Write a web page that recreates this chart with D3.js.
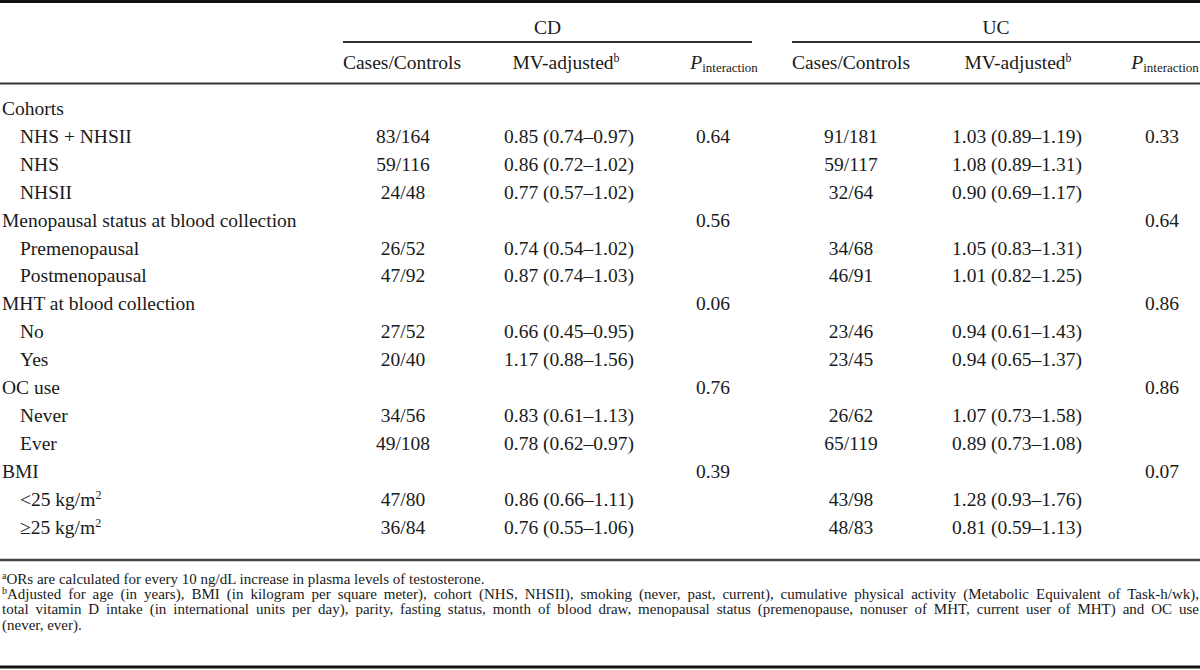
<!DOCTYPE html>
<html><head><meta charset="utf-8">
<script src="https://cdn.jsdelivr.net/npm/d3@7"></script>
<style>
html,body{margin:0;padding:0;background:#fff;}
svg text{font-family:"Liberation Serif","Times New Roman",serif;fill:#1a1a1a;}
</style></head>
<body><svg id="c" width="1200" height="670"></svg>
<script>
// ---- data ----
const rowLabels = ["Cohorts","NHS + NHSII","NHS","NHSII","Menopausal status at blood collection","Premenopausal","Postmenopausal","MHT at blood collection","No","Yes","OC use","Never","Ever","BMI","<25 kg/m|2","≥25 kg/m|2"];
const rowIndent = [0,1,1,1,0,1,1,0,1,1,0,1,1,0,1,1];
const cdCases = ["","83/164","59/116","24/48","","26/52","47/92","","27/52","20/40","","34/56","49/108","","47/80","36/84"];
const cdOR = ["","0.85 (0.74–0.97)","0.86 (0.72–1.02)","0.77 (0.57–1.02)","","0.74 (0.54–1.02)","0.87 (0.74–1.03)","","0.66 (0.45–0.95)","1.17 (0.88–1.56)","","0.83 (0.61–1.13)","0.78 (0.62–0.97)","","0.86 (0.66–1.11)","0.76 (0.55–1.06)"];
const cdP = ["","0.64","","","0.56","","","0.06","","","0.76","","","0.39","",""];
const ucCases = ["","91/181","59/117","32/64","","34/68","46/91","","23/46","23/45","","26/62","65/119","","43/98","48/83"];
const ucOR = ["","1.03 (0.89–1.19)","1.08 (0.89–1.31)","0.90 (0.69–1.17)","","1.05 (0.83–1.31)","1.01 (0.82–1.25)","","0.94 (0.61–1.43)","0.94 (0.65–1.37)","","1.07 (0.73–1.58)","0.89 (0.73–1.08)","","1.28 (0.93–1.76)","0.81 (0.59–1.13)"];
const ucP = ["","0.33","","","0.64","","","0.86","","","0.86","","","0.07","",""];
const groups = ["CD","UC"];
const colKeys = ["cdCases","cdOR","cdP","ucCases","ucOR","ucP"];
const colHeaders = ["Cases/Controls","MV-adjusted|b","P|interaction","Cases/Controls","MV-adjusted|b","P|interaction"];
const footnotes = [
  ["a","ORs are calculated for every 10 ng/dL increase in plasma levels of testosterone."],
  ["b","Adjusted for age (in years), BMI (in kilogram per square meter), cohort (NHS, NHSII), smoking (never, past, current), cumulative physical activity (Metabolic Equivalent of Task-h/wk),"],
  ["","total vitamin D intake (in international units per day), parity, fasting status, month of blood draw, menopausal status (premenopause, nonuser of MHT, current user of MHT) and OC use"],
  ["","(never, ever)."]
];
const columns = {cdCases, cdOR, cdP, ucCases, ucOR, ucP};

// ---- layout ----
const svg = d3.select("#c");
const FS = 19.5;
const x = d3.scaleOrdinal().domain(colKeys).range([403,569,713,851,1017,1162]);
const hx = d3.scaleOrdinal().domain(colKeys).range([402,566,724,851,1018,1165]);
const gx = d3.scaleOrdinal().domain(groups).range([[343,752],[792,1200]]);
const y = d3.scaleLinear().domain([0, rowLabels.length-1]).range([109, 527.5]);

function hline(x1,x2,yy,w,col){
  svg.append("line").attr("x1",x1).attr("x2",x2).attr("y1",yy).attr("y2",yy)
    .attr("stroke",col||"#111").attr("stroke-width",w);
}
hline(0,1200,1.5,3);
hline(0,1200,83.5,1.8,"#333");
hline(0,1200,560,2.4,"#444");
hline(0,1200,667,3,"#111");

// group headers
groups.forEach(g=>{
  const [a,b] = gx(g);
  svg.append("text").attr("x",(a+b)/2).attr("y",34).attr("text-anchor","middle")
    .attr("font-size",FS).text(g);
  hline(a,b,42,1.8,"#333");
});

// column headers
colKeys.forEach((k,i)=>{
  const parts = colHeaders[i].split("|");
  const t = svg.append("text").attr("x",hx(k)).attr("y",69).attr("text-anchor","middle").attr("font-size",FS);
  if(parts[0]==="P"){
    t.append("tspan").attr("font-style","italic").text("P");
    t.append("tspan").attr("font-size",13).attr("dy",3).text(parts[1]);
  } else {
    t.append("tspan").text(parts[0]);
    if(parts[1]) t.append("tspan").attr("font-size",12).attr("dy",-7).text(parts[1]);
  }
});

// row labels
rowLabels.forEach((lab,i)=>{
  const parts = lab.split("|");
  const t = svg.append("text").attr("x",rowIndent[i]?20:2).attr("y",y(i)+6).attr("font-size",FS);
  t.append("tspan").text(parts[0]);
  if(parts[1]) t.append("tspan").attr("font-size",12).attr("dy",-7).text(parts[1]);
});

// cells
colKeys.forEach(k=>{
  svg.append("g").selectAll("text").data(columns[k]).join("text")
    .attr("x",x(k)).attr("y",(d,i)=>y(i)+6).attr("text-anchor","middle")
    .attr("font-size",FS).text(d=>d);
});

// footnotes
const fy = [584,599,614,630];
footnotes.forEach((f,i)=>{
  const t = svg.append("text").attr("x",2).attr("y",fy[i]).attr("font-size",15);
  if(f[0]) t.append("tspan").attr("font-size",10).attr("dy",-5).text(f[0]);
  t.append("tspan").attr("dy",f[0]?5:0).text(f[1]);
  if(i===1||i===2){
    const w = t.node().getComputedTextLength();
    const nSpaces = (f[1].match(/ /g)||[]).length;
    const extra = (1197 - w)/nSpaces;
    t.attr("word-spacing",extra);
  }
});
</script></body></html>
